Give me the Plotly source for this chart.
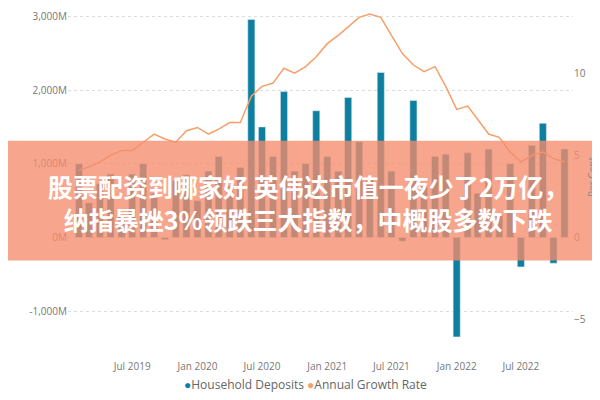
import plotly.graph_objects as go

MONTHS = [
    "2019-02", "2019-03", "2019-04", "2019-05", "2019-06", "2019-07", "2019-08", "2019-09",
    "2019-10", "2019-11", "2019-12", "2020-01", "2020-02", "2020-03", "2020-04", "2020-05",
    "2020-06", "2020-07", "2020-08", "2020-09", "2020-10", "2020-11", "2020-12", "2021-01",
    "2021-02", "2021-03", "2021-04", "2021-05", "2021-06", "2021-07", "2021-08", "2021-09",
    "2021-10", "2021-11", "2021-12", "2022-01", "2022-02", "2022-03", "2022-04", "2022-05",
    "2022-06", "2022-07", "2022-08", "2022-09", "2022-10", "2022-11",
]
DEPOSITS = [
    1000, 470, 730, 860, 300, 860, 1000, 600, -30, 770, 850, 500, 900, 1100, 700, 950,
    2960, 1500, 1100, 1980, 900, 1000, 1720, 1100, 900, 1900, 1300, 800, 2240, 900, -50, 1860,
    700, 1100, 1130, -1350, 1150, 600, 1200, 300, 1000, -400, 1250, 1550, -350, 1200,
]
GROWTH = [
    4.1, 4.3, 4.6, 5.0, 5.3, 5.3, 5.8, 6.3, 6.0, 5.8, 6.5, 6.7, 6.3, 6.6, 7.0, 7.0,
    8.6, 9.2, 9.4, 10.3, 10.0, 10.4, 11.0, 11.8, 12.3, 12.8, 13.4, 13.6, 13.4, 12.3, 11.2, 10.5,
    10.1, 10.4, 9.2, 7.8, 8.0, 7.2, 6.3, 6.1, 5.2, 4.6, 5.0, 5.2, 4.8, 4.6,
]
LEFT_TICKS = [-1000, 0, 1000, 2000, 3000]
LEFT_LABELS = ["-1,000M", "0M", "1,000M", "2,000M", "3,000M"]
RIGHT_TICKS = [-5, 0, 5, 10]
X_TICKS = ["2019-07-01", "2020-01-01", "2020-07-01", "2021-01-01", "2021-07-01", "2022-01-01", "2022-07-01"]
X_LABELS = ["Jul 2019", "Jan 2020", "Jul 2020", "Jan 2021", "Jul 2021", "Jan 2022", "Jul 2022"]
SERIES_NAMES = ["Household Deposits", "Annual Growth Rate"]
HEADLINE = "股票配资到哪家好 英伟达市值一夜少了2万亿，<br>纳指暴挫3%领跌三大指数，中概股多数下跌"

BAR_COLOR = "#0F7FA0"
LINE_COLOR = "#F5A06A"
dates = [m + "-01" for m in MONTHS]

fig = go.Figure()
fig.add_trace(go.Bar(x=dates, y=DEPOSITS, name=SERIES_NAMES[0],
                     marker_color=BAR_COLOR, width=1000 * 3600 * 24 * 20))
fig.add_trace(go.Scatter(x=dates, y=GROWTH, name=SERIES_NAMES[1], yaxis="y2",
                         mode="lines", line={"color": LINE_COLOR, "width": 1.5}))

legend_text = (
    f"<span style='color:{BAR_COLOR}'>●</span>{SERIES_NAMES[0]} "
    f"<span style='color:{LINE_COLOR}'>●</span>{SERIES_NAMES[1]}"
)

fig.update_layout(
    width=600, height=400,
    margin={"l": 60, "r": 35, "t": 0, "b": 62},
    paper_bgcolor="white", plot_bgcolor="white",
    font={"family": "Open Sans, sans-serif", "size": 10, "color": "#777"},
    showlegend=False,
    xaxis={"tickvals": X_TICKS, "ticktext": X_LABELS, "showgrid": False,
           "range": ["2019-01-01", "2022-11-25"], "tickfont": {"size": 10},
           "ticklabelstandoff": 13},
    yaxis={"range": [-1473, 3115], "tickvals": LEFT_TICKS, "ticktext": LEFT_LABELS,
           "gridcolor": "#ddd", "griddash": "dot", "zeroline": False},
    yaxis2={"range": [-6.6, 13.97], "tickvals": RIGHT_TICKS, "overlaying": "y", "side": "right",
            "showgrid": False, "zeroline": False,
            "title": {"text": "Per Cent", "font": {"size": 10, "color": "#888"}, "standoff": 4}},
    shapes=[{"type": "rect", "xref": "paper", "yref": "paper",
             "x0": -0.13, "x1": 1.08, "y0": 0.253, "y1": 0.607,
             "fillcolor": "rgba(245,140,108,0.78)", "line": {"width": 0}, "layer": "above"}],
    annotations=[
        {"text": "<b>" + HEADLINE + "</b>", "xref": "paper", "yref": "paper",
         "x": 0.475, "y": 0.424, "showarrow": False, "align": "center",
         "font": {"family": "Noto Sans CJK SC", "size": 25, "color": "white"}},
        {"text": legend_text, "xref": "paper", "yref": "paper", "x": 0.47, "y": -0.115,
         "yanchor": "middle", "showarrow": False, "font": {"size": 12, "color": "#666"}},
    ],
)

fig.write_html("out.html")
